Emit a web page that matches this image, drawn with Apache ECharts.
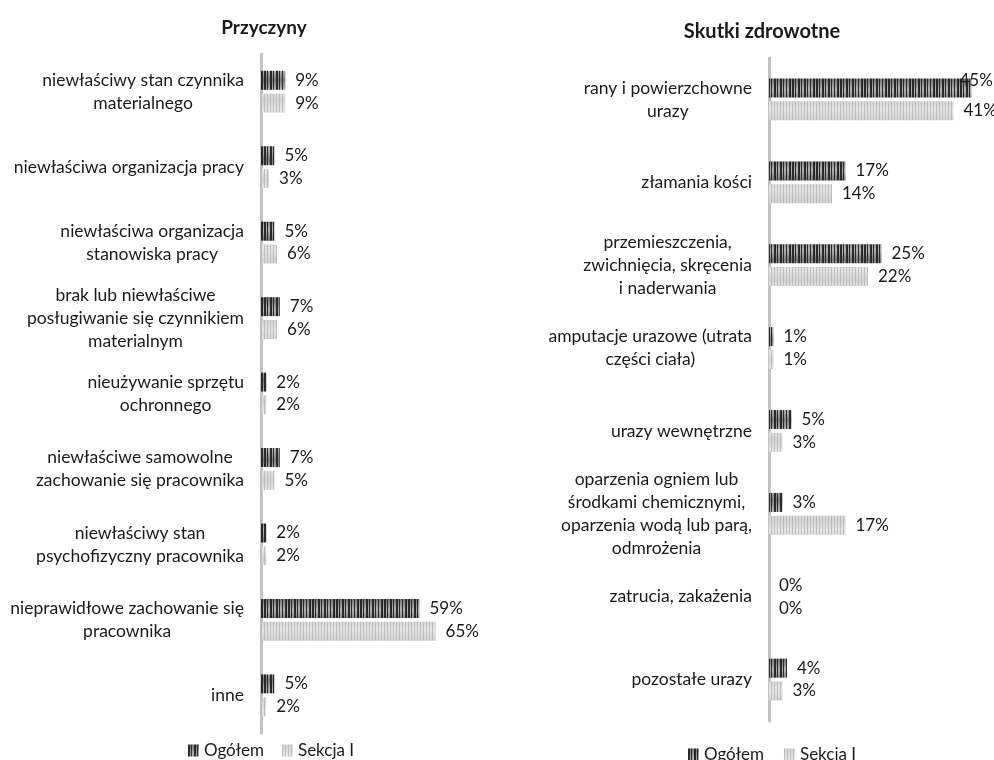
<!DOCTYPE html>
<html>
<head>
<meta charset="utf-8">
<script src="https://cdn.jsdelivr.net/npm/echarts@6/dist/echarts.min.js"></script>
<style>
  html, body { margin: 0; padding: 0; background: #fff; }
  #chart { width: 994px; height: 760px; }
</style>
</head>
<body>
<div id="chart"></div>
<script>
// Causes of accidents (left panel)
const causeCategories = [
  'niewłaściwy stan czynnika\nmaterialnego',
  'niewłaściwa organizacja pracy',
  'niewłaściwa organizacja\nstanowiska pracy',
  'brak lub niewłaściwe\nposługiwanie się czynnikiem\nmaterialnym',
  'nieużywanie sprzętu\nochronnego',
  'niewłaściwe samowolne\nzachowanie się pracownika',
  'niewłaściwy stan\npsychofizyczny pracownika',
  'nieprawidłowe zachowanie się\npracownika',
  'inne'
];
const causeOgolem = [9, 5, 5, 7, 2, 7, 2, 59, 5];
const causeSekcja = [9, 3, 6, 6, 2, 5, 2, 65, 2];

// Health effects (right panel)
const effectCategories = [
  'rany i powierzchowne\nurazy',
  'złamania kości',
  'przemieszczenia,\nzwichnięcia, skręcenia\ni naderwania',
  'amputacje urazowe (utrata\nczęści ciała)',
  'urazy wewnętrzne',
  'oparzenia ogniem lub\nśrodkami chemicznymi,\noparzenia wodą lub parą,\nodmrożenia',
  'zatrucia, zakażenia',
  'pozostałe urazy'
];
const effectOgolem = [45, 17, 25, 1, 5, 3, 0, 4];
const effectSekcja = [41, 14, 22, 1, 3, 17, 0, 3];

const seriesNames = ['Ogółem', 'Sekcja I'];

// Striped fill textures for the two series
function stripes(base, stripe, accents) {
  const c = document.createElement('canvas');
  c.width = 24; c.height = 20;
  const g = c.getContext('2d');
  const grad = g.createLinearGradient(0, 0, 0, 20);
  grad.addColorStop(0, base[0]);
  grad.addColorStop(0.5, base[1]);
  grad.addColorStop(1, base[0]);
  g.fillStyle = grad;
  g.fillRect(0, 0, 24, 20);
  g.fillStyle = stripe;
  accents.forEach(([x, w]) => g.fillRect(x, 0, w, 20));
  return c;
}
const darkFill = { image: stripes(['#7a7a7a', '#b4b4b4'], '#2a2a2a', [[0, 2], [3, 1], [6, 2], [9, 1], [12, 2], [15, 1], [18, 1], [21, 2]]), repeat: 'repeat' };
const lightFill = { image: stripes(['#d4d4d4', '#e8e8e8'], '#bdbdbd', [[0, 1], [3, 1], [6, 1], [9, 1], [12, 1], [15, 1], [18, 1], [21, 1]]), repeat: 'repeat' };

const FONT = 'Lato';
const TEXT = '#1a1a1a';

// Each line of a category label is centred inside its block
function centredLines(v) {
  return v.split('\n').map(s => '{c|' + s + '}').join('\n');
}

function valueLabel() {
  return {
    show: true,
    position: 'right',
    distance: 10,
    fontFamily: FONT,
    fontSize: 17,
    color: TEXT,
    formatter: '{c}%'
  };
}

function makeSeries(name, values, fill, xi, special) {
  return {
    name: name,
    type: 'bar',
    xAxisIndex: xi,
    yAxisIndex: xi,
    barWidth: 19,
    barGap: '20%',
    itemStyle: { color: fill },
    label: valueLabel(),
    data: values.map((v, i) => {
      if (special && special[i]) {
        return { value: v, label: { offset: special[i] } };
      }
      return v;
    })
  };
}

function catAxis(idx, cats) {
  return {
    type: 'category',
    gridIndex: idx,
    data: cats,
    inverse: true,
    axisTick: { show: false },
    axisLine: { lineStyle: { color: '#c2c2c2', width: 3 } },
    axisLabel: {
      margin: 17,
      align: 'right',
      lineHeight: 23,
      formatter: centredLines,
      rich: { c: { align: 'center', fontFamily: FONT, fontSize: 17.5, color: TEXT, lineHeight: 23 } }
    }
  };
}

function valAxis(idx, max) {
  return {
    type: 'value',
    gridIndex: idx,
    min: 0,
    max: max,
    show: false,
    splitLine: { show: false }
  };
}

const legendText = { fontFamily: FONT, fontSize: 17, color: TEXT };

const chart = echarts.init(document.getElementById('chart'), null, { renderer: 'canvas' });
chart.setOption({
  backgroundColor: '#fff',
  animation: false,
  title: [
    { text: 'Przyczyny', left: 259, top: 13, textAlign: 'center',
      textStyle: { fontFamily: FONT, fontWeight: 'bold', fontSize: 19, color: TEXT } },
    { text: 'Skutki zdrowotne', left: 757, top: 17, textAlign: 'center',
      textStyle: { fontFamily: FONT, fontWeight: 'bold', fontSize: 20, color: TEXT } }
  ],
  legend: [
    { data: seriesNames, left: 183, top: 737, itemWidth: 11, itemHeight: 12, itemGap: 18, itemSpacing: 4,
      textStyle: legendText, icon: 'rect', selectedMode: false },
    { data: seriesNames.map(n => n + ' '), left: 683, top: 741, itemWidth: 11, itemHeight: 12, itemGap: 20, itemSpacing: 4,
      textStyle: legendText, icon: 'rect', selectedMode: false, formatter: n => n.trim() }
  ],
  grid: [
    { left: 261, top: 54, width: 188, height: 679 },
    { left: 769, top: 58, width: 230, height: 663 }
  ],
  xAxis: [valAxis(0, 70), valAxis(1, 50)],
  yAxis: [catAxis(0, causeCategories), catAxis(1, effectCategories)],
  series: [
    makeSeries(seriesNames[0], causeOgolem, darkFill, 0),
    makeSeries(seriesNames[1], causeSekcja, lightFill, 0),
    makeSeries(seriesNames[0] + ' ', effectOgolem, darkFill, 1, { 0: [-22, -8] }),
    makeSeries(seriesNames[1] + ' ', effectSekcja, lightFill, 1)
  ]
});
</script>
</body>
</html>
